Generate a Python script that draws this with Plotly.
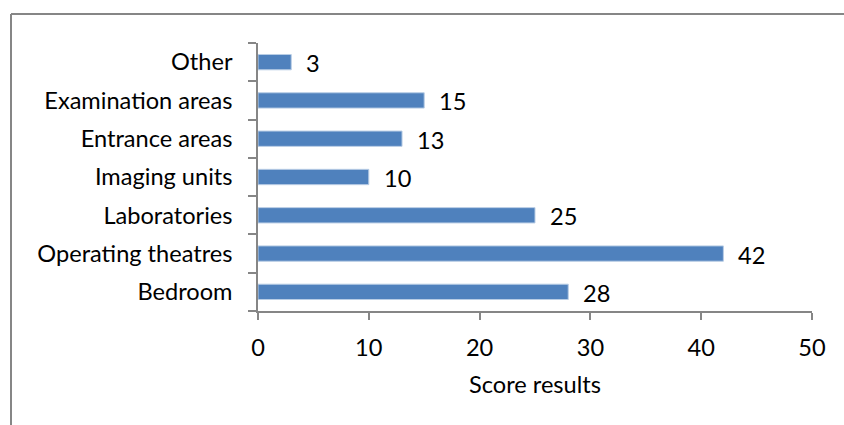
import plotly.graph_objects as go

# Categories listed bottom-to-top as they appear on the axis
areas = ["Bedroom", "Operating theatres", "Laboratories", "Imaging units",
         "Entrance areas", "Examination areas", "Other"]
scores = [28, 42, 25, 10, 13, 15, 3]
x_ticks = [0, 10, 20, 30, 40, 50]

FONT = "Lato, 'Open Sans', sans-serif"
FS = 23.6
AXIS_GREY = "#868686"
BAR_BLUE = "#4F81BD"

W, H = 844, 425
M_L, M_R, M_T, M_B = 258, 32, 43, 114

fig = go.Figure(
    go.Bar(
        x=scores,
        y=areas,
        orientation="h",
        width=0.4,
        marker=dict(color=BAR_BLUE, line=dict(color="#B9CDE5", width=1)),
        hoverinfo="x+y",
    )
)

# value labels just past the end of each bar
for a, s in zip(areas, scores):
    fig.add_annotation(
        x=s, y=a, text=str(s), showarrow=False,
        xanchor="left", yanchor="middle", xshift=13, yshift=-1,
        font=dict(family=FONT, size=FS, color="#000000"),
    )

# chart-area frame (top and left edges visible)
plot_w = W - M_L - M_R
plot_h = H - M_T - M_B
fx0 = (11 - M_L) / plot_w
fx1 = (W + 20 - M_L) / plot_w
fy1 = (H - M_B - 14) / plot_h
fy0 = (H - M_B - (H + 20)) / plot_h
fig.add_shape(type="line", xref="paper", yref="paper",
              x0=fx0, x1=fx1, y0=fy1, y1=fy1,
              line=dict(color=AXIS_GREY, width=2))
fig.add_shape(type="line", xref="paper", yref="paper",
              x0=fx0, x1=fx0, y0=fy0, y1=fy1,
              line=dict(color=AXIS_GREY, width=2))

fig.update_layout(
    width=W, height=H,
    margin=dict(l=M_L, r=M_R, t=M_T, b=M_B, pad=0),
    paper_bgcolor="white", plot_bgcolor="white",
    showlegend=False,
    font=dict(family=FONT, size=FS, color="#000000"),
    xaxis=dict(
        range=[0, 50], tickvals=x_ticks, ticktext=[str(v) for v in x_ticks],
        showgrid=False, zeroline=False,
        showline=True, linecolor=AXIS_GREY, linewidth=1.5,
        ticks="outside", ticklen=7, tickcolor=AXIS_GREY, tickwidth=1.5,
        ticklabelstandoff=8,
        tickfont=dict(family=FONT, size=FS),
        title=dict(text="Score results", standoff=16,
                   font=dict(family=FONT, size=FS)),
    ),
    yaxis=dict(
        type="category", categoryorder="array", categoryarray=areas,
        tickson="boundaries",
        showgrid=False, zeroline=False,
        showline=True, linecolor=AXIS_GREY, linewidth=1.5,
        ticks="outside", ticklen=8, tickcolor=AXIS_GREY, tickwidth=1.5,
        ticklabelstandoff=19,
        tickfont=dict(family=FONT, size=FS),
    ),
)

fig.write_html("out.html")
